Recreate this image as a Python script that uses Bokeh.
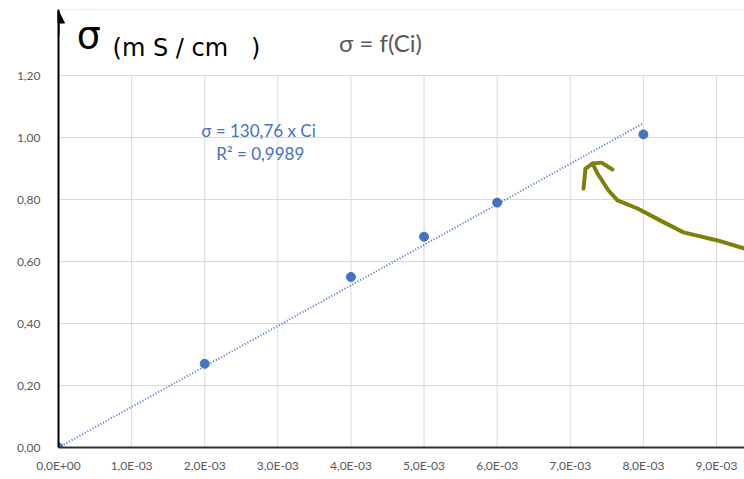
from bokeh.plotting import figure
from bokeh.models import (Range1d, FixedTicker, CustomJSTickFormatter, Label,
                          Arrow, NormalHead, Span)
from bokeh.embed import file_html
from bokeh.resources import INLINE

# ---------------- data ----------------
ci = [0.0, 0.002, 0.004, 0.005, 0.006, 0.008]
sigma = [0.0, 0.27, 0.55, 0.68, 0.79, 1.01]
slope = 130.76
x_ticks = [0.000, 0.001, 0.002, 0.003, 0.004, 0.005, 0.006, 0.007, 0.008, 0.009]
y_ticks = [0.0, 0.2, 0.4, 0.6, 0.8, 1.0, 1.2]
title_text = "σ = f(Ci)"
eq_text = "σ = 130,76 x Ci"
r2_text = "R² = 0,9989"
note_symbol = "σ"
NB = "\u00a0"
note_unit = "(m" + NB + "S" + NB + "/" + NB + "cm" + NB * 3 + ")"

# hand-drawn olive arrow (annotation), data coordinates
curve_x = [0.009383, 0.009014, 0.008549, 0.008234, 0.007920, 0.007646,
           0.007523, 0.007372, 0.007304]
curve_y = [0.642, 0.668, 0.694, 0.732, 0.771, 0.797, 0.829, 0.884, 0.916]
head_left_x = [0.007304, 0.007208, 0.007181]
head_left_y = [0.916, 0.900, 0.835]
head_right_x = [0.007304, 0.007427, 0.007577]
head_right_y = [0.916, 0.919, 0.897]

BLUE = "#4472C4"
GRID = "#d9d9d9"
GRAY_TXT = "#595959"
OLIVE = "#7f7f0b"

x_end = 0.009383
y_end = 1.413

p = figure(width=744, height=479, output_backend="svg", toolbar_location=None,
           x_range=Range1d(0, x_end), y_range=Range1d(0, y_end),
           min_border_left=58, min_border_right=0, min_border_top=9,
           min_border_bottom=32)
p.outline_line_color = None
p.background_fill_color = "white"
p.border_fill_color = "white"

# chart-area top border
p.add_layout(Span(location=y_end, dimension="width", line_color=GRID, line_width=1))

# grid
p.xgrid.visible = False
p.ygrid.ticker = FixedTicker(ticks=y_ticks)
p.ygrid.grid_line_color = GRID
p.ygrid.grid_line_width = 1
n = len(x_ticks)
p.segment(x0=x_ticks, y0=[y_ticks[0]] * n, x1=x_ticks, y1=[y_ticks[-1]] * n,
          line_color=GRID, line_width=1)

# axes
p.xaxis.ticker = FixedTicker(ticks=x_ticks)
p.xaxis.formatter = CustomJSTickFormatter(code="""
  return tick.toExponential(1).replace('.', ',').replace(/e([+-])(\\d)$/, 'E$10$2');
""")
p.yaxis.ticker = FixedTicker(ticks=y_ticks)
p.yaxis.formatter = CustomJSTickFormatter(code="return tick.toFixed(2).replace('.', ',');")
for ax in (p.xaxis[0], p.yaxis[0]):
    ax.major_tick_line_color = None
    ax.minor_tick_line_color = None
    ax.major_label_text_font = "Lato"
    ax.major_label_text_font_size = "12px"
    ax.major_label_text_color = GRAY_TXT
p.xaxis.axis_line_color = "#303030"
p.xaxis.axis_line_width = 2
p.xaxis.major_label_standoff = 4
p.yaxis.axis_line_color = "black"
p.yaxis.axis_line_width = 2
p.yaxis.major_label_standoff = 12

# trendline
trend_x = [0.0, ci[-1]]
trend_y = [slope * v for v in trend_x]
p.line(trend_x, trend_y, line_color=BLUE, line_width=2, line_dash="1 2")

# points
p.scatter(ci, sigma, size=9, fill_color=BLUE, line_color=BLUE)

# axis arrow head
p.add_layout(Arrow(x_start=0, y_start=1.33, x_end=0, y_end=1.408,
                   line_color="black", line_width=2,
                   end=NormalHead(size=12, fill_color="black", line_color="black")))

# texts
p.add_layout(Label(x=0.000250, y=1.33, text=note_symbol, text_font="DejaVu Sans",
                   text_font_size="38px", text_color="black",
                   text_baseline="middle", text_align="left"))
p.add_layout(Label(x=0.000740, y=1.29, text=note_unit, text_font="DejaVu Sans",
                   text_font_size="24px", text_color="black",
                   text_baseline="middle", text_align="left"))
p.add_layout(Label(x=0.004404, y=1.306, text=title_text, text_font="Lato",
                   text_font_size="24px", text_color=GRAY_TXT,
                   text_baseline="middle", text_align="center"))
p.add_layout(Label(x=0.002736, y=1.0226, text=eq_text, text_font="Lato",
                   text_font_size="17px", text_color=BLUE,
                   text_baseline="middle", text_align="center"))
p.add_layout(Label(x=0.002760, y=0.948, text=r2_text, text_font="Lato",
                   text_font_size="17px", text_color=BLUE,
                   text_baseline="middle", text_align="center"))

# olive hand-drawn arrow
for xs, ys in ((curve_x, curve_y), (head_left_x, head_left_y), (head_right_x, head_right_y)):
    p.line(xs, ys, line_color=OLIVE, line_width=4, line_cap="round", line_join="round")

open("out.html", "w").write(file_html(p, INLINE))
